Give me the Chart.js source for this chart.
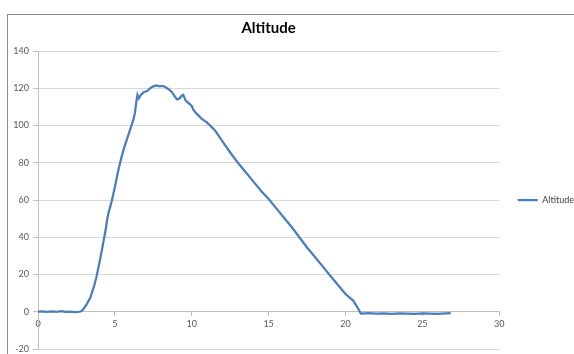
<!DOCTYPE html>
<html>
<head>
<meta charset="utf-8">
<script src="https://cdn.jsdelivr.net/npm/chart.js@4.4.1/dist/chart.umd.min.js"></script>
<style>
  html, body { margin: 0; padding: 0; background: #fff; overflow: hidden; }
  #wrap { position: relative; width: 574px; height: 354px; }
  #frame { position: absolute; left: 7px; top: 14px; width: 600px; height: 400px;
           border-left: 1px solid #8c8c8c; border-top: 1px solid #8c8c8c; }
  canvas { position: absolute; left: 0; top: 0; }
</style>
</head>
<body>
<div id="wrap">
  <div id="frame"></div>
  <canvas id="chart" width="574" height="354"></canvas>
</div>
<script>
const SERIES_NAME = "Altitude";

// time (s)
const times = [
  0, 0.3, 0.6, 0.9, 1.2, 1.5, 1.8, 2.1, 2.4, 2.7, 2.8, 2.9,
  3.0, 3.2, 3.4, 3.6, 3.8, 4.0, 4.2, 4.4, 4.5, 4.6, 4.8,
  5.0, 5.2, 5.4, 5.6, 5.8, 6.0, 6.2, 6.3, 6.4, 6.47, 6.55, 6.7, 6.9,
  7.1, 7.3, 7.5, 7.7, 7.9, 8.1, 8.3, 8.5, 8.7, 8.9,
  9.05, 9.2, 9.35, 9.45, 9.6, 9.8, 10.0, 10.1, 10.3, 10.6,
  11.0, 11.5, 12.0, 12.5, 13.0, 13.5, 14.0, 14.5, 15.0, 15.5,
  16.0, 16.5, 17.0, 17.5, 18.0, 18.5, 19.0, 19.5, 20.0, 20.5, 20.8,
  21.0, 21.5, 22.0, 22.5, 23.0, 23.5, 24.0, 24.5, 25.0, 25.5, 26.0, 26.5, 26.85
];

// altitude
const altitude = [
  0, 0.2, -0.1, 0.2, 0, 0.3, -0.1, 0.1, -0.2, 0, 0.3, 0.8,
  2, 4.5, 7.5, 12.5, 18.5, 26.5, 35, 44, 49.5, 53.5, 59.5,
  67, 75, 82, 88, 93, 98, 103, 106.5, 113, 116.4, 114.5, 116.5, 118,
  118.5, 120, 121, 121.5, 121, 121.3, 120.5, 119.5, 118, 115.5,
  114, 114.5, 116, 116.5, 113.5, 112, 110.5, 108.5, 106.5, 104,
  101.5, 97.5, 91.5, 85.5, 80, 75, 70, 65, 60.5, 55.5,
  50.5, 45.5, 40, 34.5, 29.5, 24.5, 19.5, 14.5, 9.5, 6, 2,
  -1, -0.8, -1, -0.9, -1.1, -0.9, -1, -1.1, -0.9, -1, -1.1, -0.9, -0.8
];

const xTicks = { min: 0, max: 30, step: 5 };
const yTicks = { min: -20, max: 140, step: 20 };

const points = times.map((t, i) => ({ x: t, y: altitude[i] }));

const tickFont = { family: "Lato, 'Liberation Sans', sans-serif", size: 9 };

// nudge the legend a little to the right inside its box, like the original
const legendShift = {
  id: "legendShift",
  afterLayout(chart) {
    const lg = chart.legend;
    if (lg) { lg.left += 10; lg.right += 10; }
  }
};

new Chart(document.getElementById("chart"), {
  type: "scatter",
  data: {
    datasets: [{
      label: SERIES_NAME,
      data: points,
      showLine: true,
      borderColor: "#4a7ebb",
      backgroundColor: "#4a7ebb",
      borderWidth: 2.25,
      pointRadius: 0,
      tension: 0
    }]
  },
  options: {
    responsive: false,
    animation: false,
    layout: { padding: { top: 10, bottom: 5, left: 0, right: 0 } },
    scales: {
      x: {
        type: "linear",
        position: { y: 0 },
        min: xTicks.min,
        max: xTicks.max,
        ticks: { stepSize: xTicks.step, color: "#595959", font: tickFont, padding: 3, maxRotation: 0 },
        grid: { drawOnChartArea: false, drawTicks: true, tickLength: 4, tickColor: "#bfbfbf" },
        border: { color: "#bfbfbf", width: 1 }
      },
      y: {
        min: yTicks.min,
        max: yTicks.max,
        afterFit: (s) => { s.width = 38; s.paddingTop = 0; s.paddingBottom = 0; },
        ticks: { stepSize: yTicks.step, color: "#595959", font: tickFont, padding: 4 },
        grid: { color: "#d9d9d9", tickLength: 5, tickColor: "#bfbfbf" },
        border: { color: "#bfbfbf", width: 1 }
      }
    },
    plugins: {
      title: {
        display: true,
        text: "Altitude",
        fullSize: false,
        color: "#000",
        font: { family: "Lato, 'Liberation Sans', sans-serif", size: 15, weight: "bold" },
        padding: { top: 9, bottom: 14 }
      },
      legend: {
        position: "right",
        fullSize: false,
        labels: {
          usePointStyle: true,
          pointStyle: "line",
          pointStyleWidth: 20,
          color: "#404040",
          font: { family: "Lato, 'Liberation Sans', sans-serif", size: 9 },
          padding: 8.5
        }
      },
      tooltip: { enabled: false }
    }
  },
  plugins: [legendShift]
});
</script>
</body>
</html>
